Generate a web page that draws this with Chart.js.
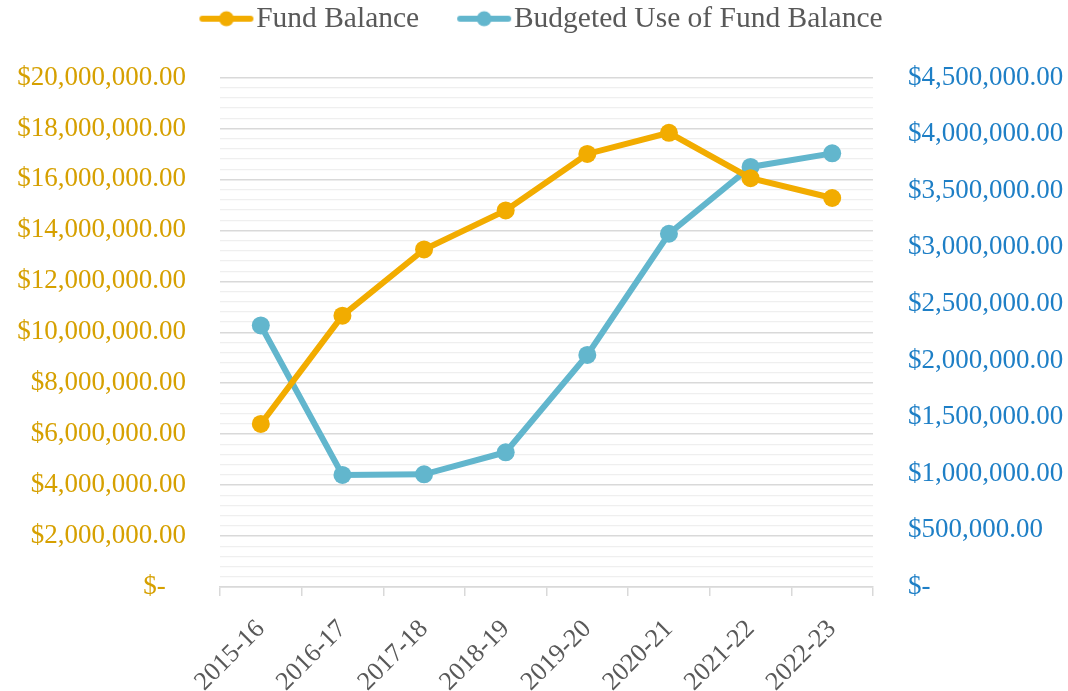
<!DOCTYPE html>
<html>
<head>
<meta charset="utf-8">
<script src="https://cdn.jsdelivr.net/npm/chart.js@4.4.0/dist/chart.umd.min.js"></script>
<style>
  html, body { margin: 0; padding: 0; background: #ffffff; }
  #wrap { width: 1068px; height: 691px; position: relative; }
</style>
</head>
<body>
<div id="wrap"><canvas id="c" width="1068" height="691"></canvas></div>
<script>
const categories = ["2015-16", "2016-17", "2017-18", "2018-19", "2019-20", "2020-21", "2021-22", "2022-23"];
const fundBalance = [6400000, 10650000, 13250000, 14780000, 17000000, 17830000, 16050000, 15270000];
const budgetedUse = [2310000, 990000, 995000, 1190000, 2050000, 3120000, 3710000, 3830000];
const seriesNames = ["Fund Balance", "Budgeted Use of Fund Balance"];
const leftTicks = { min: 0, max: 20000000, major: 2000000, minor: 400000 };
const rightTicks = { min: 0, max: 4500000, step: 500000 };

const GOLD = "#F2AC00";
const GOLD_TXT = "#D6A000";
const BLUE = "#62B6CD";
const BLUE_TXT = "#1E7FC6";
const GREY_TXT = "#595959";
const FONT = "'Liberation Serif', 'Times New Roman', serif";

function money(v) {
  v = Math.round(v);
  if (v === 0) return "$-";
  return "$" + v.toLocaleString("en-US", { minimumFractionDigits: 2, maximumFractionDigits: 2 });
}

function legendMarker(color) {
  const c = document.createElement("canvas");
  c.width = 56; c.height = 22;
  const g = c.getContext("2d");
  g.strokeStyle = color; g.lineWidth = 6; g.lineCap = "round";
  g.beginPath(); g.moveTo(4, 11); g.lineTo(52, 11); g.stroke();
  g.fillStyle = color;
  g.beginPath(); g.arc(28, 11, 7.5, 0, Math.PI * 2); g.fill();
  return c;
}
const markers = [legendMarker(GOLD), legendMarker(BLUE)];

const legendShift = {
  id: "legendShift",
  afterLayout(chart) {
    const lg = chart.legend;
    if (lg) { lg.top -= 34; lg.bottom -= 34; lg.left += 13; lg.right += 13; }
  }
};

new Chart(document.getElementById("c"), {
  type: "line",
  data: {
    labels: categories,
    datasets: [
      {
        label: seriesNames[0], data: fundBalance, yAxisID: "y",
        borderColor: GOLD, backgroundColor: GOLD, borderWidth: 6,
        pointRadius: 9, pointHoverRadius: 9, pointBackgroundColor: GOLD, pointBorderWidth: 0,
        tension: 0
      },
      {
        label: seriesNames[1], data: budgetedUse, yAxisID: "y1",
        borderColor: BLUE, backgroundColor: BLUE, borderWidth: 6,
        pointRadius: 9, pointHoverRadius: 9, pointBackgroundColor: BLUE, pointBorderWidth: 0,
        tension: 0
      }
    ]
  },
  plugins: [legendShift],
  options: {
    responsive: false,
    animation: false,
    layout: { padding: { top: -12, left: 0, right: 0, bottom: 0 } },
    plugins: {
      tooltip: { enabled: false },
      legend: {
        position: "top",
        labels: {
          usePointStyle: true,
          pointStyleWidth: 30,
          boxHeight: 20,
          padding: 50,
          color: GREY_TXT,
          font: { family: FONT, size: 29.5 },
          generateLabels(chart) {
            const items = Chart.defaults.plugins.legend.labels.generateLabels(chart);
            items.forEach((it, i) => { it.pointStyle = markers[i]; });
            return items;
          }
        }
      }
    },
    scales: {
      x: {
        offset: true,
        afterFit(s) { s.height = 104; },
        border: { display: true, color: "#d9d9d9", width: 1.5 },
        grid: { display: true, drawOnChartArea: false, drawTicks: true, tickLength: 9, color: "#d9d9d9", lineWidth: 1.5, offset: true },
        ticks: { color: GREY_TXT, font: { family: FONT, size: 26 }, minRotation: 45, maxRotation: 45, padding: 18, autoSkip: false }
      },
      y: {
        position: "left",
        min: leftTicks.min, max: leftTicks.max,
        afterFit(s) { s.width = 220; },
        border: { display: false },
        grid: {
          drawTicks: false,
          color(ctx) { return Math.round(ctx.tick.value) % leftTicks.major === 0 ? "#d9d9d9" : "#efefef"; },
          lineWidth(ctx) { return Math.round(ctx.tick.value) % leftTicks.major === 0 ? 1.5 : 1.2; }
        },
        ticks: {
          stepSize: leftTicks.minor, autoSkip: false, padding: 34,
          color: GOLD_TXT, font: { family: FONT, size: 27 },
          callback(v) {
            v = Math.round(v);
            if (v % leftTicks.major !== 0) return "";
            return v === 0 ? "$-   " : money(v);
          }
        }
      },
      y1: {
        position: "right",
        min: rightTicks.min, max: rightTicks.max,
        afterFit(s) { s.width = 195; },
        border: { display: false },
        grid: { drawOnChartArea: false, drawTicks: false },
        ticks: {
          stepSize: rightTicks.step, autoSkip: false, padding: 35,
          color: BLUE_TXT, font: { family: FONT, size: 27 },
          callback(v) { return money(v); }
        }
      }
    }
  }
});
</script>
</body>
</html>
